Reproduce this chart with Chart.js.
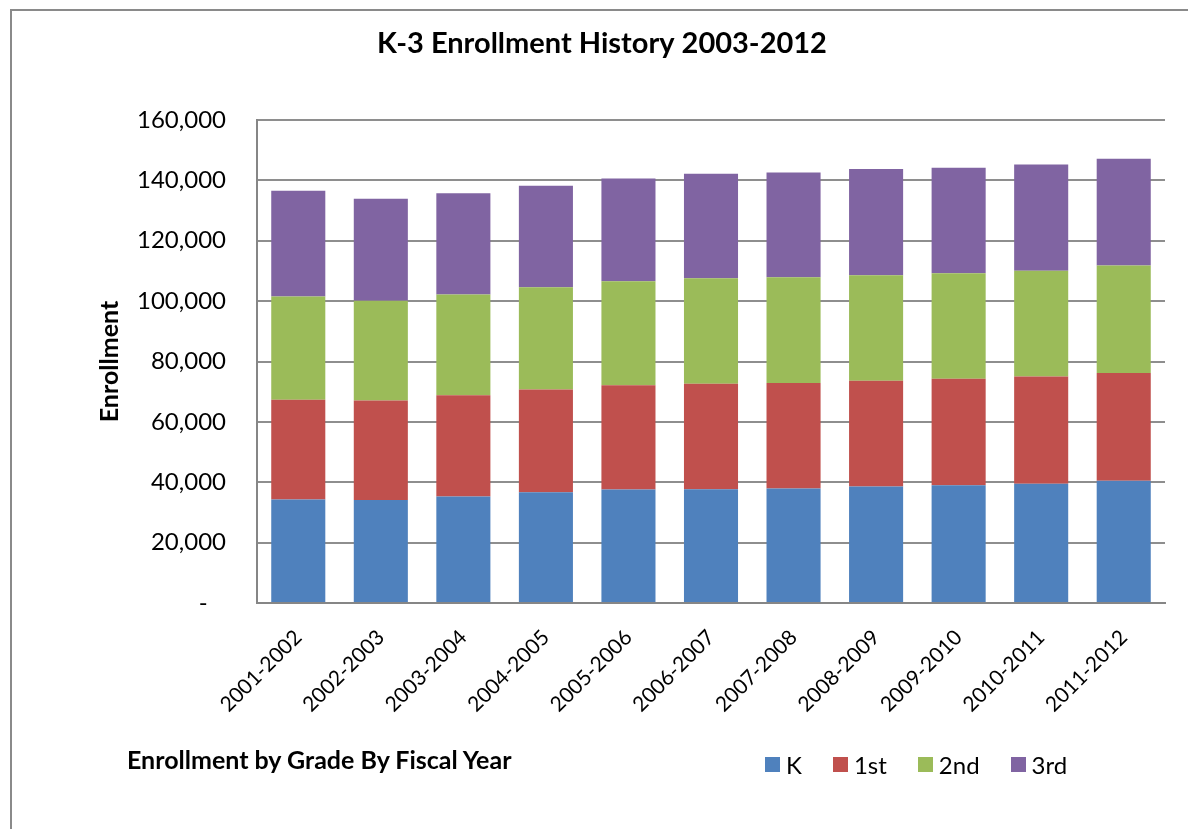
<!DOCTYPE html>
<html>
<head>
<meta charset="utf-8">
<title>K-3 Enrollment History 2003-2012</title>
<script src="https://cdn.jsdelivr.net/npm/chart.js@4.4.1/dist/chart.umd.min.js"></script>
<style>
  html, body { margin: 0; background: #fff; overflow: hidden; }
  #wrap { position: relative; width: 1188px; height: 829px; overflow: hidden; font-family: Lato, "Open Sans", sans-serif; }
  #frame { position: absolute; left: 10px; top: 9px; width: 1300px; height: 900px; border-left: 2px solid #8a8a8a; border-top: 2px solid #8a8a8a; }
  #myChart { position: absolute; left: 0; top: 0; }
  #caption { position: absolute; left: 127px; top: 744px; font-size: 25px; font-weight: bold; color: #000; }
  #legend { position: absolute; left: 765px; top: 750px; display: flex; align-items: center; font-size: 24px; color: #000; }
  #legend .item { display: flex; align-items: center; margin-right: 31px; }
  #legend .box { width: 15px; height: 15px; margin-right: 6px; }
</style>
</head>
<body>
<div id="wrap">
  <div id="frame"></div>
  <canvas id="myChart" width="1188" height="829"></canvas>
  <div id="caption">Enrollment by Grade By Fiscal Year</div>
  <div id="legend"></div>
</div>
<script>
const years = ["2001-2002", "2002-2003", "2003-2004", "2004-2005", "2005-2006", "2006-2007",
  "2007-2008", "2008-2009", "2009-2010", "2010-2011", "2011-2012"];
const grades = ["K", "1st", "2nd", "3rd"];
const kinder = [34300, 34100, 35300, 36700, 37600, 37700, 37900, 38600, 39000, 39500, 40500];
const first = [33000, 33000, 33500, 34000, 34500, 34900, 35000, 35000, 35300, 35500, 35700];
const second = [34200, 33000, 33400, 33900, 34500, 35000, 35000, 35000, 34900, 35100, 35600];
const third = [35100, 33800, 33500, 33600, 34000, 34600, 34700, 35200, 35000, 35200, 35400];
const colors = ["#4F81BD", "#C0504D", "#9BBB59", "#8064A2"];

const series = [kinder, first, second, third];

Chart.defaults.font.family = "Lato, 'Open Sans', sans-serif";
Chart.defaults.color = "#000";

const ctx = document.getElementById("myChart");

new Chart(ctx, {
  type: "bar",
  data: {
    labels: years,
    datasets: series.map((vals, i) => ({
      label: grades[i],
      data: vals,
      backgroundColor: colors[i],
      barPercentage: 0.655,
      categoryPercentage: 1,
    })),
  },
  options: {
    responsive: false,
    animation: false,
    // left padding also centres the title over 380..825
    layout: { padding: { left: 39, right: 23, top: 0, bottom: 86 } },
    plugins: {
      legend: { display: false },
      tooltip: { enabled: false },
      title: {
        display: true,
        text: "K-3 Enrollment History 2003-2012",
        font: { size: 29, weight: "bold" },
        color: "#000",
        padding: { top: 26.6, bottom: 58.6 },
      },
    },
    scales: {
      x: {
        stacked: true,
        grid: { display: false },
        border: { display: true, color: "#868686", width: 2 },
        ticks: { maxRotation: 45, minRotation: 45, font: { size: 21 }, padding: 14 },
        afterFit: (scale) => { scale.height = 140; },
      },
      y: {
        stacked: true,
        min: 0,
        max: 160000,
        ticks: {
          stepSize: 20000,
          font: { size: 24 },
          padding: 31,
          callback: (v) => (v === 0 ? "-   " : v.toLocaleString("en-US")),
        },
        grid: { color: "#8e8e8e", lineWidth: 2, drawTicks: false },
        border: { display: true, color: "#868686", width: 2 },
        title: {
          display: true,
          text: "Enrollment",
          font: { size: 25, weight: "bold" },
          padding: { top: 56, bottom: 0 },
        },
        afterFit: (scale) => { scale.width = 218; },
      },
    },
  },
});

// legend row under the chart
const legend = document.getElementById("legend");
grades.forEach((g, i) => {
  const item = document.createElement("span");
  item.className = "item";
  item.innerHTML = '<span class="box" style="background:' + colors[i] + '"></span>' + g;
  legend.appendChild(item);
});
</script>
</body>
</html>
